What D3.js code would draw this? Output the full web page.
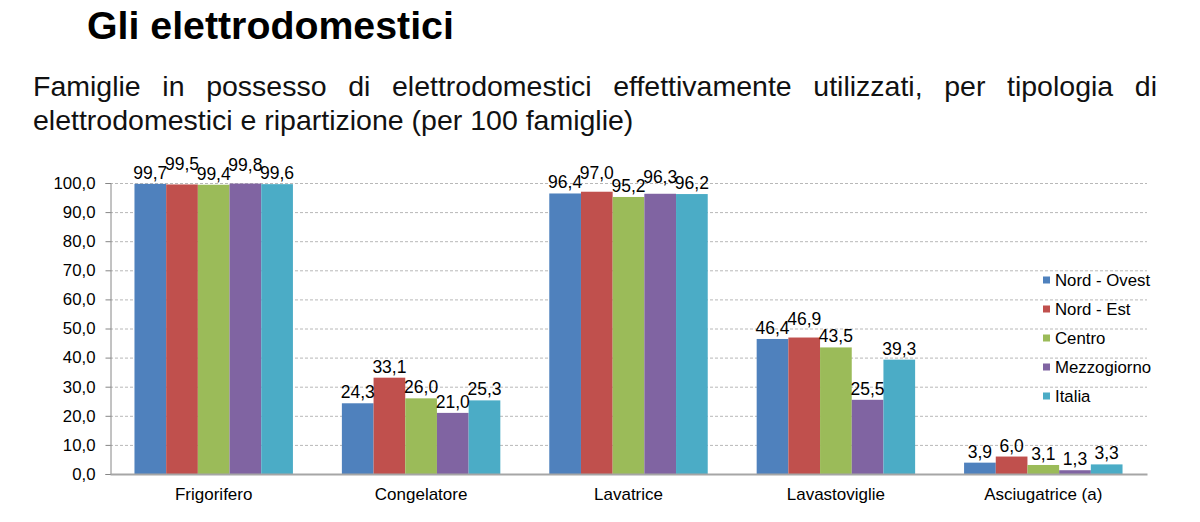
<!DOCTYPE html>
<html><head><meta charset="utf-8">
<script src="https://cdn.jsdelivr.net/npm/d3@7"></script>
<style>
html,body{margin:0;padding:0;background:#fff;}
svg{display:block;font-family:"Liberation Sans",Arial,sans-serif;}
</style></head>
<body><svg id="c" width="1200" height="522"></svg>
<script>
const categories = ["Frigorifero","Congelatore","Lavatrice","Lavastoviglie","Asciugatrice (a)"];
const seriesNames = ["Nord - Ovest","Nord - Est","Centro","Mezzogiorno","Italia"];
const nordOvest   = [99.7, 24.3, 96.4, 46.4, 3.9];
const nordEst     = [99.5, 33.1, 97.0, 46.9, 6.0];
const centro      = [99.4, 26.0, 95.2, 43.5, 3.1];
const mezzogiorno = [99.8, 21.0, 96.3, 25.5, 1.3];
const italia      = [99.6, 25.3, 96.2, 39.3, 3.3];
const yTicks = [0,10,20,30,40,50,60,70,80,90,100];
const colors = ["#4F81BD","#C0504D","#9BBB59","#8064A2","#4BACC6"];
const titleText = "Gli elettrodomestici";
const subtitleLines = ["Famiglie in possesso di elettrodomestici effettivamente utilizzati, per tipologia di",
                       "elettrodomestici e ripartizione (per 100 famiglie)"];

(function(){
const series = [nordOvest, nordEst, centro, mezzogiorno, italia];
const fmt = v => v.toFixed(1).replace(".", ",");

const svg = d3.select("#c");
const mLeft = 110, mRight = 1147, mTop = 183, mBottom = 474;

// Title
svg.append("text").attr("x", 87).attr("y", 39)
  .attr("font-size", 39.3).attr("font-weight", "bold").attr("fill", "#000").text(titleText);

// Subtitle (first line justified)
const sub1 = svg.append("text").attr("x", 33).attr("y", 96).attr("font-size", 28.5).attr("fill", "#111").text(subtitleLines[0]);
const natW = sub1.node().getComputedTextLength();
const spaces = subtitleLines[0].split(" ").length - 1;
sub1.attr("word-spacing", ((1157 - 33) - natW) / spaces);
svg.append("text").attr("x", 33).attr("y", 130).attr("font-size", 28.5).attr("fill", "#111").text(subtitleLines[1]);

const x0 = d3.scaleBand().domain(categories).range([mLeft, mRight]).paddingInner(0.236).paddingOuter(0.118);
const x1 = d3.scaleBand().domain(seriesNames).range([0, x0.bandwidth()]);
const y = d3.scaleLinear().domain([0, 100]).range([mBottom, mTop]);

// gridlines
svg.append("g").selectAll("line").data(yTicks.filter(t => t > 0)).join("line")
  .attr("x1", mLeft).attr("x2", mRight).attr("y1", d => y(d) + 0.5).attr("y2", d => y(d) + 0.5)
  .attr("stroke", "#B8B8B8").attr("stroke-width", 1).attr("stroke-dasharray", "3,2");

// y axis
const yAxis = d3.axisLeft(y).tickValues(yTicks).tickFormat(fmt).tickSize(5).tickPadding(10);
const ga = svg.append("g").attr("transform", `translate(${mLeft + 0.5},0)`).call(yAxis);
ga.select(".domain").attr("stroke", "#868686");
ga.selectAll(".tick line").attr("stroke", "#868686");
ga.selectAll(".tick text").attr("font-size", 16.8).attr("fill", "#000")
  .attr("font-family", "Liberation Sans, Arial, sans-serif");

// bars
const groups = svg.append("g").selectAll("g").data(categories).join("g")
  .attr("transform", d => `translate(${x0(d)},0)`);
groups.selectAll("rect").data((c, ci) => seriesNames.map((s, si) => ({s, si, v: series[si][ci]}))).join("rect")
  .attr("x", d => x1(d.s)).attr("width", x1.bandwidth())
  .attr("y", d => y(d.v)).attr("height", d => y(0) - y(d.v))
  .attr("fill", d => colors[d.si]);

// x axis
const xAxis = d3.axisBottom(x0).tickSize(0).tickPadding(14);
const gx = svg.append("g").attr("transform", `translate(0,${mBottom})`).call(xAxis);
gx.select(".domain").attr("stroke", "#A6A6A6").attr("stroke-width", 2);
gx.selectAll(".tick text").attr("font-size", 17).attr("fill", "#000")
  .attr("font-family", "Liberation Sans, Arial, sans-serif");

// value labels with simple collision handling
categories.forEach((c, ci) => {
  let prev = null;
  seriesNames.forEach((s, si) => {
    const v = series[si][ci];
    const cx = x0(c) + x1(s) + x1.bandwidth() / 2;
    const t = svg.append("text").attr("x", cx).attr("text-anchor", "middle")
      .attr("font-size", 17.5).attr("fill", "#000").text(fmt(v));
    const w = t.node().getComputedTextLength();
    let by = y(v) - 5;
    if (prev) {
      const gap = (cx - w / 2) - (prev.cx + prev.w / 2);
      if (gap < 0 && Math.abs(by - prev.by) < 4) by = prev.by - 9;
    }
    t.attr("y", by);
    prev = {cx, w, by};
  });
});

// legend
const lg = svg.append("g").attr("transform", "translate(1043,280)");
seriesNames.forEach((s, i) => {
  const row = lg.append("g").attr("transform", `translate(0,${i * 29})`);
  row.append("rect").attr("x", 0).attr("y", -3.5).attr("width", 7).attr("height", 7).attr("fill", colors[i]);
  row.append("text").attr("x", 12).attr("y", 6).attr("font-size", 16.8).attr("fill", "#000").text(s);
});
})();
</script></body></html>
